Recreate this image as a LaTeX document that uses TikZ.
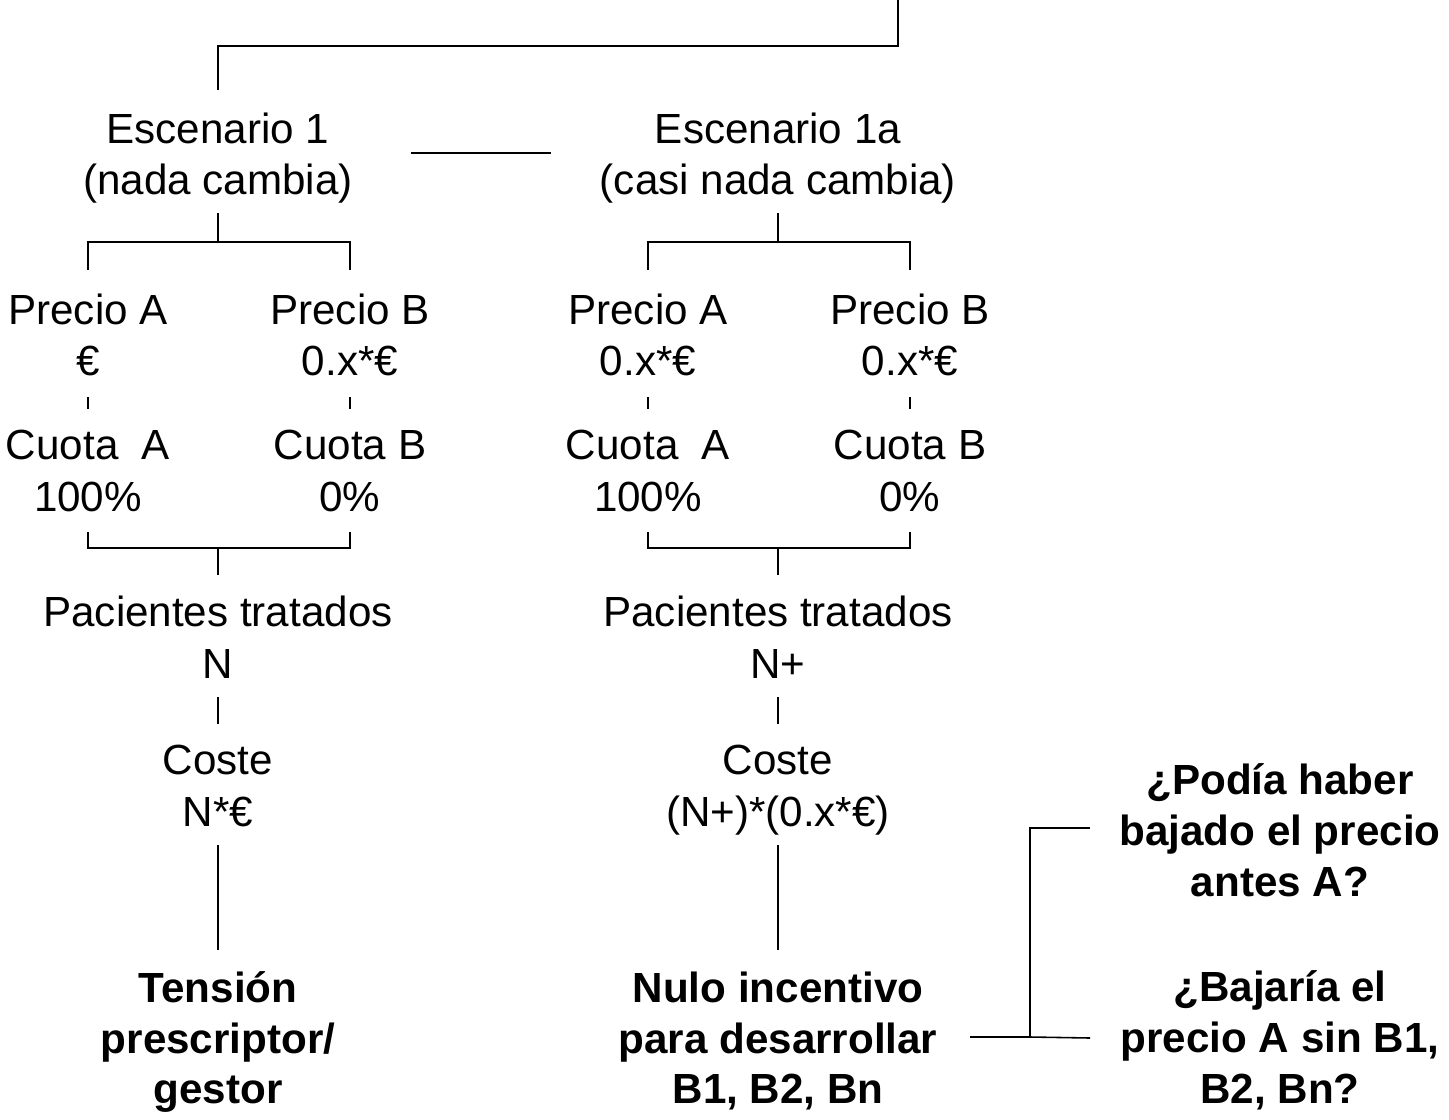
\documentclass[tikz,border=0pt]{standalone}
\usepackage{fontspec}
\setmainfont{Liberation Sans}
\tikzset{
  txt/.style={align=center, inner sep=0pt, font=\fontsize{24}{29.5}\selectfont},
  btxt/.style={txt, font=\fontsize{24}{29}\selectfont\bfseries},
  conn/.style={draw=black, line width=0.9pt}
}
\begin{document}
\begin{tikzpicture}[x=0.02cm, y=-0.02cm]
    \useasboundingbox (0,0) rectangle (1449,1119);

    % Scenarios
    \node[txt] (esc1) at (218,158) {Escenario 1\\(nada cambia)};
    \node[txt] (esc1a) at (778,158) {Escenario 1a\\(casi nada cambia)};
    \coordinate (src) at (898,0);

    % Left branch
    \node[txt] (pa1) at (88,335) {Precio A\\€};
    \node[txt] (pb1) at (350,335) {Precio B\\0.x*€};
    \node[txt] (ca1) at (88,471) {Cuota\ \ A\\100\%};
    \node[txt] (cb1) at (350,471) {Cuota B\\0\%};
    \node[txt] (pt1) at (218,637) {Pacientes tratados\\N};
    \node[txt] (co1) at (218,786) {Coste\\N*€};
    \node[btxt] (res1) at (218,1042) {Tensión\\prescriptor/\\gestor};

    % Right branch
    \node[txt] (pa2) at (648,335) {Precio A\\0.x*€};
    \node[txt] (pb2) at (910,335) {Precio B\\0.x*€};
    \node[txt] (ca2) at (648,471) {Cuota\ \ A\\100\%};
    \node[txt] (cb2) at (910,471) {Cuota B\\0\%};
    \node[txt] (pt2) at (778,637) {Pacientes tratados\\N+};
    \node[txt] (co2) at (778,790) {Coste\\(N+)*(0.x*€)};
    \node[btxt] (res2) at (778,1041) {Nulo incentivo\\para desarrollar\\B1, B2, Bn};

    % Questions
    \node[btxt] (q1) at (1280,830) {¿Podía haber\\bajado el precio\\antes A?};
    \node[btxt] (q2) at (1280,1040) {¿Bajaría el\\precio A sin B1,\\B2, Bn?};
    \coordinate (fork) at (1030,1037);

    % Top connector
    \draw[conn] (src) -- (898,46) -| (esc1 |- 0,90);
    \draw[conn] (411,153) -- (551,153);

    % Left tree
    \draw[conn] (esc1 |- 0,213) -- (esc1 |- 0,242);
    \draw[conn] (pa1 |- 0,270) -- (pa1 |- 0,242) -- (pb1 |- 0,242) -- (pb1 |- 0,270);
    \draw[conn] (pa1 |- 0,397) -- (ca1 |- 0,409);
    \draw[conn] (pb1 |- 0,397) -- (cb1 |- 0,409);
    \draw[conn] (ca1 |- 0,532) -- (ca1 |- 0,548) -- (cb1 |- 0,548) -- (cb1 |- 0,532);
    \draw[conn] (pt1 |- 0,548) -- (pt1 |- 0,575);
    \draw[conn] (pt1 |- 0,697) -- (co1 |- 0,724);
    \draw[conn] (co1 |- 0,845) -- (res1 |- 0,950);

    % Right tree
    \draw[conn] (esc1a |- 0,213) -- (esc1a |- 0,242);
    \draw[conn] (pa2 |- 0,270) -- (pa2 |- 0,242) -- (pb2 |- 0,242) -- (pb2 |- 0,270);
    \draw[conn] (pa2 |- 0,397) -- (ca2 |- 0,409);
    \draw[conn] (pb2 |- 0,397) -- (cb2 |- 0,409);
    \draw[conn] (ca2 |- 0,532) -- (ca2 |- 0,548) -- (cb2 |- 0,548) -- (cb2 |- 0,532);
    \draw[conn] (pt2 |- 0,548) -- (pt2 |- 0,575);
    \draw[conn] (pt2 |- 0,697) -- (co2 |- 0,724);
    \draw[conn] (co2 |- 0,845) -- (res2 |- 0,950);

    % Questions connector
    \draw[conn] (970,1037) -- (fork) -- (1090,1038);
    \draw[conn] (fork) |- (1090,828);
\end{tikzpicture}
\end{document}
